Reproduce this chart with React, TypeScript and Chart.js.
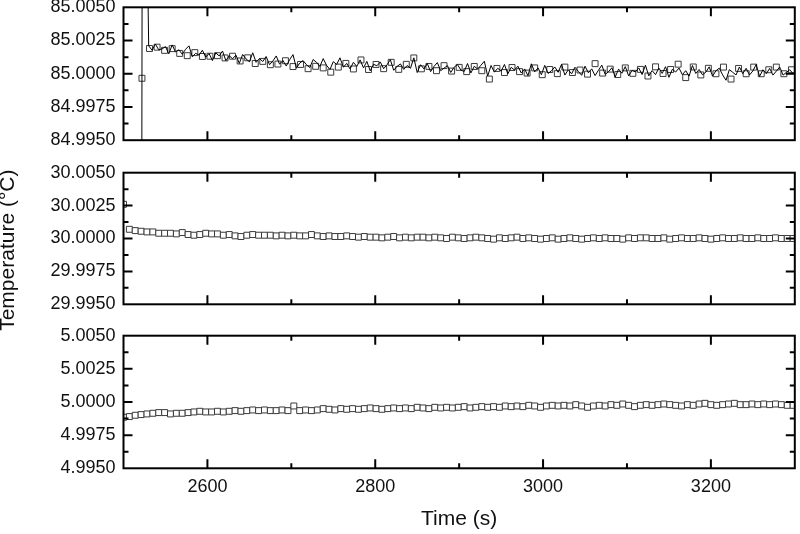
import React, { useEffect, useRef } from 'react';
import { Chart, registerables } from 'chart.js';

Chart.register(...registerables);

// ---------- axis data ----------
const TIME_MIN = 2500;
const TIME_MAX = 3300;
const X_LABEL_TICKS = [2600, 2800, 3000, 3200];
const TOP_Y_TICKS = [84.995, 84.9975, 85.0, 85.0025, 85.005];
const MID_Y_TICKS = [29.995, 29.9975, 30.0, 30.0025, 30.005];
const BOT_Y_TICKS = [4.995, 4.9975, 5.0, 5.0025, 5.005];
const X_TITLE = 'Time (s)';
const Y_TITLE = 'Temperature (°C)';

// ---------- panel 1 (85 °C): noisy trace + square samples ----------
const topLeadTimes = [2521.5, 2522.5, 2526];
const topLeadValues = [84.98, 85.02, 85.02];
const TOP_LINE_START = 2530;
const TOP_LINE_STEP = 4;
const topLineValues = [
  85.0021, 85.00177, 85.00223, 85.0018, 85.00187, 85.00204, 85.0015, 85.00217, 85.00164, 85.0018,
  85.00147, 85.00184, 85.0021, 85.00127, 85.00154, 85.0014, 85.00177, 85.00125, 85.00152, 85.00099,
  85.00157, 85.00134, 85.00171, 85.00098, 85.00136, 85.00113, 85.0014, 85.00078, 85.00145, 85.00112,
  85.0009, 85.00158, 85.00086, 85.00114, 85.00092, 85.0013, 85.00068, 85.00096, 85.00134, 85.00072,
  85.001, 85.00058, 85.00106, 85.00144, 85.00042, 85.0008, 85.00099, 85.00068, 85.00047, 85.00107,
  85.00086, 85.00055, 85.00114, 85.00063, 85.00032, 85.00091, 85.0007, 85.0012, 85.00049, 85.00078,
  85.00037, 85.00086, 85.00055, 85.00104, 85.00044, 85.00093, 85.00022, 85.00071, 85.0006, 85.00089,
  85.00038, 85.00067, 85.00106, 85.00026, 85.00055, 85.00074, 85.00033, 85.00062, 85.00041, 85.0012,
  85.00009, 85.00068, 85.00037, 85.00077, 85.00016, 85.00055, 85.00084, 85.00023, 85.00042, 85.00061,
  85.0001, 85.00049, 85.00069, 85.00028, 85.00017, 85.00077, 85.00006, 85.00056, 85.00035, 85.00064,
  85.00094, 84.99983, 85.00062, 85.00012, 85.00041, 85.0002, 85.0007, 84.99999, 85.00048, 85.00028,
  85.00057, 85.00006, 85.00036, 84.99985, 85.00075, 85.00014, 85.00044, 84.99993, 85.00063, 85.00002,
  85.00022, 85.00051, 85.00011, 85.00071, 84.9999, 85.0003, 84.99999, 85.00049, 85.00018, 84.99988,
  85.00057, 85.00007, 85.00037, 84.99986, 85.00026, 85.00065, 84.99995, 85.00015, 85.00045, 84.99975,
  85.00035, 85.00004, 85.00054, 84.99984, 85.00024, 85.00014, 85.00044, 84.99994, 85.00064, 84.99984,
  85.00024, 84.99993, 85.00043, 85.00003, 85.00053, 84.99973, 85.00033, 85.00013, 85.00043, 84.99993,
  85.00023, 84.99982, 85.00062, 85.00002, 85.00032, 84.99992, 85.00012, 85.00052, 84.99982, 85.00022,
  85.00042, 84.99991, 84.99951, 85.00031, 85.00011, 84.99991, 85.00051, 85.00001, 85.00041, 84.99991,
  85.00021, 85.0007, 84.9998, 85.0003, 85.0, 85.0004, 84.9999, 85.0002, 85.0005, 84.9999,
  85.0001, 85.0003, 85.0,
];
const TOP_SQ_START = 2522;
const TOP_SQ_STEP = 9;
const topSquareValues = [
  84.99966, 85.0019, 85.002, 85.00176, 85.00189, 85.00153, 85.00136, 85.00159, 85.0013, 85.00132,
  85.00136, 85.00119, 85.00132, 85.00096, 85.0012, 85.00077, 85.00093, 85.00068, 85.00073, 85.00098,
  85.00054, 85.0007, 85.00038, 85.00056, 85.00044, 85.00012, 85.0005, 85.00078, 85.00036, 85.00104,
  85.00032, 85.0007, 85.00038, 85.00086, 85.00033, 85.00071, 85.00119, 85.00037, 85.00055, 85.00023,
  85.00061, 85.0002, 85.00048, 85.00016, 85.00055, 85.00023, 84.9996, 85.0004, 85.00009, 85.00047,
  85.00016, 85.00005, 85.00044, 84.99993, 85.00032, 85.00001, 85.0005, 85.00009, 85.00028, 84.99997,
  85.00076, 85.00005, 85.00035, 84.99994, 85.00044, 85.00003, 85.00033, 84.99983, 85.00052, 85.00002,
  85.00032, 85.00072, 84.99971, 85.00051, 84.99991, 85.00041, 85.0, 85.0005, 84.9996, 85.0004,
  85.0, 85.0005, 85.0, 85.0003, 85.0005, 85.0, 85.0003,
];

// ---------- panels 2 and 3: sampled every 7 s ----------
const LOW_START = 2500;
const LOW_STEP = 7;
const midSquareValues = [
  30.0026, 30.0007, 30.0006, 30.00055, 30.0005, 30.0005, 30.0004, 30.0004, 30.0004, 30.00035,
  30.00045, 30.0003, 30.00025, 30.0003, 30.0004, 30.00035, 30.00035, 30.00025, 30.0003, 30.0002,
  30.00015, 30.00025, 30.0003, 30.00025, 30.00025, 30.00025, 30.0002, 30.00025, 30.0002, 30.00025,
  30.0002, 30.0002, 30.0003, 30.0002, 30.00015, 30.0002, 30.00015, 30.00015, 30.0002, 30.00015,
  30.0001, 30.00015, 30.0001, 30.0001, 30.00005, 30.0001, 30.00015, 30.00005, 30.0001, 30.00005,
  30.0001, 30.0001, 30.00005, 30.0001, 30.00005, 30.0, 30.0001, 30.00005, 30.0, 30.00005,
  30.0001, 30.00005, 30.0, 29.99995, 30.00005, 30.0, 30.00005, 30.0001, 30.0, 30.00005,
  30.0, 29.99995, 30.0, 30.00005, 29.99995, 30.0, 30.00005, 30.0, 29.99995, 30.0,
  30.00005, 30.0, 30.00005, 30.0, 30.0, 29.99995, 30.00005, 30.0, 30.00005, 30.00005,
  30.0, 30.0, 30.00005, 29.99995, 30.0, 30.00005, 30.0, 30.0, 30.00005, 30.0,
  29.99995, 30.0, 30.00005, 30.0, 30.0, 30.00005, 30.0, 30.0, 30.00005, 30.0,
  30.0, 30.00005, 30.0, 30.0, 30.0,
];
const bottomSquareValues = [
  4.99885, 4.9989, 4.999, 4.99905, 4.9991, 4.99915, 4.9992, 4.9992, 4.9991, 4.99915,
  4.99915, 4.9992, 4.99925, 4.9993, 4.99925, 4.99925, 4.9993, 4.99925, 4.9993, 4.99935,
  4.9993, 4.99935, 4.9994, 4.99935, 4.9994, 4.99935, 4.99935, 4.9994, 4.99935, 4.9997,
  4.99935, 4.9994, 4.99935, 4.9994, 4.9995, 4.99945, 4.9994, 4.9995, 4.99945, 4.9995,
  4.99945, 4.9995, 4.99955, 4.9995, 4.99945, 4.9995, 4.99955, 4.9995, 4.99955, 4.9995,
  4.9996, 4.99955, 4.9995, 4.9996, 4.99955, 4.9996, 4.99955, 4.9996, 4.99965, 4.99955,
  4.9996, 4.99965, 4.9996, 4.99965, 4.9996, 4.9997, 4.99965, 4.9997, 4.99965, 4.99975,
  4.9997, 4.9996, 4.9997, 4.99975, 4.9997, 4.99975, 4.9997, 4.9998, 4.9997, 4.9996,
  4.9997, 4.99975, 4.9997, 4.9998, 4.99975, 4.99985, 4.99975, 4.99965, 4.99975, 4.9998,
  4.99975, 4.9998, 4.99985, 4.9998, 4.99975, 4.9997, 4.9998, 4.99975, 4.99985, 4.9999,
  4.9998, 4.99975, 4.9998, 4.99985, 4.9999, 4.9998, 4.9998, 4.99985, 4.9998, 4.99985,
  4.9998, 4.99985, 4.9998, 4.99975, 4.99975,
];

// ---------- layout / style ----------
const W = 800;
const H = 534;
const PLOT_LEFT = 123.5;
const PLOT_RIGHT = 798.5;
const PANEL_TOPS = [7.3, 172.7, 335.7];
const PANEL_BOTTOMS = [140.2, 304.3, 468.3];
const FONT = "'Liberation Sans', Arial, Helvetica, sans-serif";
const TEXT = '#111';
const MAJOR_LEN = 9;
const MINOR_LEN = 5;
const X_MINOR_STEP = 100;

const toPoints = (times: number[], values: number[]) => values.map((v, k) => ({ x: times[k], y: v }));
const toSeries = (start: number, step: number, values: number[]) =>
  values.map((v, k) => ({ x: start + k * step, y: v }));

const squareStyle = {
  pointStyle: 'rect',
  pointRadius: 4.2,
  pointBorderWidth: 1,
  pointBorderColor: '#3a3a3a',
  pointBackgroundColor: '#fff',
};

function datasetsFor(i: number): any[] {
  if (i === 0) {
    return [
      {
        data: [...toPoints(topLeadTimes, topLeadValues), ...toSeries(TOP_LINE_START, TOP_LINE_STEP, topLineValues)],
        borderColor: '#000',
        borderWidth: 1,
        pointRadius: 0,
        tension: 0,
        order: 1,
      },
      {
        data: toSeries(TOP_SQ_START, TOP_SQ_STEP, topSquareValues),
        showLine: false,
        order: 2,
        ...squareStyle,
      },
    ];
  }
  const vals = i === 1 ? midSquareValues : bottomSquareValues;
  return [
    {
      data: toSeries(LOW_START, LOW_STEP, vals),
      showLine: false,
      ...squareStyle,
    },
  ];
}

const frameTicksPlugin = {
  id: 'frameTicks',
  afterDraw(chart: any) {
    const { ctx, chartArea: a } = chart;
    const xs = chart.scales.x;
    const ys = chart.scales.y;
    ctx.save();
    ctx.strokeStyle = '#000';
    ctx.lineWidth = 2;
    ctx.beginPath();
    for (let v = TIME_MIN + X_MINOR_STEP; v < TIME_MAX; v += X_MINOR_STEP) {
      const len = v % 200 === 0 ? MAJOR_LEN : MINOR_LEN;
      const px = xs.getPixelForValue(v);
      ctx.moveTo(px, a.bottom);
      ctx.lineTo(px, a.bottom - len);
      ctx.moveTo(px, a.top);
      ctx.lineTo(px, a.top + len);
    }
    for (let k = 1; k < 8; k++) {
      const v = ys.min + (k * (ys.max - ys.min)) / 8;
      const len = k % 2 === 0 ? MAJOR_LEN : MINOR_LEN;
      const py = ys.getPixelForValue(v);
      ctx.moveTo(a.left, py);
      ctx.lineTo(a.left + len, py);
      ctx.moveTo(a.right, py);
      ctx.lineTo(a.right - len, py);
    }
    ctx.stroke();
    ctx.strokeRect(a.left, a.top, a.right - a.left, a.bottom - a.top);
    ctx.restore();
  },
};

const Y_TICK_SETS = [TOP_Y_TICKS, MID_Y_TICKS, BOT_Y_TICKS];

function buildConfig(i: number): any {
  const yTicks = Y_TICK_SETS[i];
  const isBottom = i === 2;
  const isMiddle = i === 1;
  return {
    type: 'line',
    data: { datasets: datasetsFor(i) },
    options: {
      responsive: false,
      animation: false,
      devicePixelRatio: 1,
      events: [],
      layout: {
        padding: {
          left: 0,
          right: W - PLOT_RIGHT,
          top: PANEL_TOPS[i],
          bottom: isBottom ? 0 : H - PANEL_BOTTOMS[i],
        },
      },
      plugins: { legend: { display: false }, tooltip: { enabled: false } },
      scales: {
        x: {
          type: 'linear',
          min: TIME_MIN,
          max: TIME_MAX,
          display: isBottom,
          grid: { display: false, drawTicks: false },
          border: { display: false },
          afterBuildTicks: (s: any) => {
            s.ticks = X_LABEL_TICKS.map((v) => ({ value: v }));
          },
          ticks: {
            padding: 8,
            color: TEXT,
            autoSkip: false,
            maxRotation: 0,
            font: { family: FONT, size: 18 },
            callback: (v: any) => String(v),
          },
          title: {
            display: isBottom,
            text: X_TITLE,
            color: TEXT,
            font: { family: FONT, size: 21 },
            padding: { top: 0, bottom: 2 },
          },
          afterFit: (s: any) => {
            if (isBottom) s.height = H - PANEL_BOTTOMS[i];
            s.paddingLeft = 0;
            s.paddingRight = 0;
          },
        },
        y: {
          type: 'linear',
          min: yTicks[0],
          max: yTicks[yTicks.length - 1],
          grid: { display: false, drawTicks: false },
          border: { display: false },
          afterBuildTicks: (s: any) => {
            s.ticks = yTicks.map((v) => ({ value: v }));
          },
          ticks: {
            padding: 8,
            color: TEXT,
            autoSkip: false,
            font: { family: FONT, size: 18 },
            callback: (v: any) => Number(v).toFixed(4),
          },
          title: {
            display: isMiddle,
            text: Y_TITLE + '    ',
            color: TEXT,
            font: { family: FONT, size: 21, lineHeight: 0.8 },
            padding: 0,
          },
          afterFit: (s: any) => {
            s.width = PLOT_LEFT;
            s.paddingTop = 0;
            s.paddingBottom = 0;
          },
        },
      },
    },
    plugins: [frameTicksPlugin],
  };
}

export default function App() {
  const r0 = useRef<HTMLCanvasElement>(null);
  const r1 = useRef<HTMLCanvasElement>(null);
  const r2 = useRef<HTMLCanvasElement>(null);
  useEffect(() => {
    const refs = [r0, r1, r2];
    const charts = refs.map((r, i) => new Chart(r.current as HTMLCanvasElement, buildConfig(i)));
    return () => charts.forEach((c) => c.destroy());
  }, []);
  const cs: React.CSSProperties = { position: 'absolute', left: 0, top: 0, width: W, height: H };
  return (
    <div style={{ position: 'fixed', left: 0, top: 0, width: W, height: H, background: '#fff' }}>
      <canvas ref={r0} width={W} height={H} style={cs} />
      <canvas ref={r1} width={W} height={H} style={cs} />
      <canvas ref={r2} width={W} height={H} style={cs} />
    </div>
  );
}
